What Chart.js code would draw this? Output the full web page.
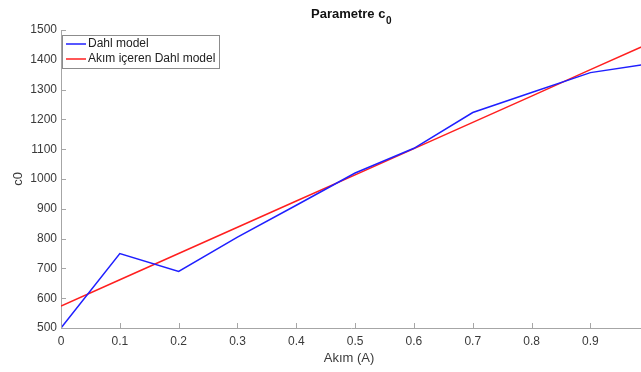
<!DOCTYPE html>
<html>
<head>
<meta charset="utf-8">
<script src="https://cdn.jsdelivr.net/npm/chart.js@4"></script>
<style>
  html, body { margin: 0; padding: 0; background: #fff; }
  #wrap { width: 641px; height: 372px; }
</style>
</head>
<body>
<div id="wrap"><canvas id="grafico" width="641" height="372"></canvas></div>
<script>
// data
const akimDegerleri = [0, 0.1, 0.2, 0.3, 0.4, 0.5, 0.6, 0.7, 0.8, 0.9, 1.0];
const dahlModel = [500, 750, 690, 805, 912, 1020, 1103, 1223, 1290, 1357, 1387];
const akimDahlModel = [574, 662, 750, 838, 926, 1014, 1102, 1190, 1278, 1367, 1455];
const xTicks = [0, 0.1, 0.2, 0.3, 0.4, 0.5, 0.6, 0.7, 0.8, 0.9];
const yTicks = [500, 600, 700, 800, 900, 1000, 1100, 1200, 1300, 1400, 1500];
const etiketler = ["Dahl model", "Akım içeren Dahl model"];

const FONT = "'Liberation Sans', Arial, sans-serif";
const eksenRenk = "#a6a6a6";
const yaziRenk = "#3a3a3a";

const noktalar = (ys) => akimDegerleri.map((x, i) => ({ x: x, y: ys[i] }));

// title with subscript, axis titles, inward ticks, legend box
const ekstra = {
  id: "ekstra",
  afterDraw(chart) {
    const ctx = chart.ctx;
    const a = chart.chartArea;
    const xs = chart.scales.x, ys = chart.scales.y;
    ctx.save();

    // inward tick marks
    ctx.strokeStyle = eksenRenk;
    ctx.lineWidth = 1;
    ctx.beginPath();
    xTicks.forEach(t => {
      const px = Math.round(xs.getPixelForValue(t)) + 0.5;
      ctx.moveTo(px, a.bottom); ctx.lineTo(px, a.bottom - 5);
    });
    yTicks.forEach(t => {
      const py = Math.round(ys.getPixelForValue(t)) + 0.5;
      ctx.moveTo(a.left, py); ctx.lineTo(a.left + 5, py);
    });
    ctx.stroke();

    // title
    ctx.fillStyle = "#111";
    ctx.textBaseline = "alphabetic";
    ctx.textAlign = "left";
    const ana = "Parametre c";
    ctx.font = "bold 13px " + FONT;
    const w1 = ctx.measureText(ana).width;
    ctx.font = "bold 10px " + FONT;
    const w2 = ctx.measureText("0").width;
    const tx = 351 - (w1 + w2) / 2;
    ctx.font = "bold 13px " + FONT;
    ctx.fillText(ana, tx, 18);
    ctx.font = "bold 10px " + FONT;
    ctx.fillText("0", tx + w1 + 0.5, 24);

    // axis titles
    ctx.fillStyle = yaziRenk;
    ctx.font = "13px " + FONT;
    ctx.textAlign = "center";
    ctx.textBaseline = "middle";
    ctx.fillText("Akım (A)", (a.left + 641) / 2 - 2, 358);
    ctx.save();
    ctx.translate(18, 179);
    ctx.rotate(-Math.PI / 2);
    ctx.fillText("c0", 0, 0);
    ctx.restore();

    // legend
    const lx = 62, ly = 35, lw = 157, lh = 33;
    ctx.fillStyle = "#fff";
    ctx.fillRect(lx, ly, lw, lh);
    ctx.strokeStyle = "#8c8c8c";
    ctx.lineWidth = 1;
    ctx.strokeRect(lx + 0.5, ly + 0.5, lw, lh);
    ctx.font = "12px " + FONT;
    ctx.textAlign = "left";
    ctx.textBaseline = "middle";
    chart.data.datasets.forEach((ds, i) => {
      const yy = ly + 9 + i * 15;
      ctx.strokeStyle = ds.borderColor;
      ctx.lineWidth = 1.5;
      ctx.beginPath();
      ctx.moveTo(lx + 4, yy); ctx.lineTo(lx + 24, yy);
      ctx.stroke();
      ctx.fillStyle = "#222";
      ctx.fillText(ds.label, lx + 26, yy);
    });
    ctx.restore();
  }
};

new Chart(document.getElementById("grafico"), {
  type: "line",
  data: {
    datasets: [
      { label: etiketler[0], data: noktalar(dahlModel), borderColor: "#1f1fff", borderWidth: 1.5, pointRadius: 0, tension: 0 },
      { label: etiketler[1], data: noktalar(akimDahlModel), borderColor: "#ff1f1f", borderWidth: 1.5, pointRadius: 0, tension: 0 }
    ]
  },
  options: {
    responsive: false,
    animation: false,
    layout: { padding: { top: 30, right: 0, left: 0, bottom: 0 } },
    plugins: { legend: { display: false }, tooltip: { enabled: false } },
    scales: {
      x: {
        type: "linear",
        min: 0,
        max: 0.986,
        afterBuildTicks: (s) => { s.ticks = xTicks.map(v => ({ value: v })); },
        afterFit: (s) => { s.height = 44; },
        grid: { display: false, drawTicks: false },
        border: { color: eksenRenk, width: 1 },
        ticks: { color: yaziRenk, font: { family: FONT, size: 12 }, padding: 6, maxRotation: 0,
                 callback: (v) => String(v) }
      },
      y: {
        min: 500,
        max: 1500,
        afterBuildTicks: (s) => { s.ticks = yTicks.map(v => ({ value: v })); },
        afterFit: (s) => { s.width = 61; },
        grid: { display: false, drawTicks: false },
        border: { color: eksenRenk, width: 1 },
        ticks: { color: yaziRenk, font: { family: FONT, size: 12 }, padding: 4,
                 callback: (v) => String(v) }
      }
    }
  },
  plugins: [ekstra]
});
</script>
</body>
</html>
